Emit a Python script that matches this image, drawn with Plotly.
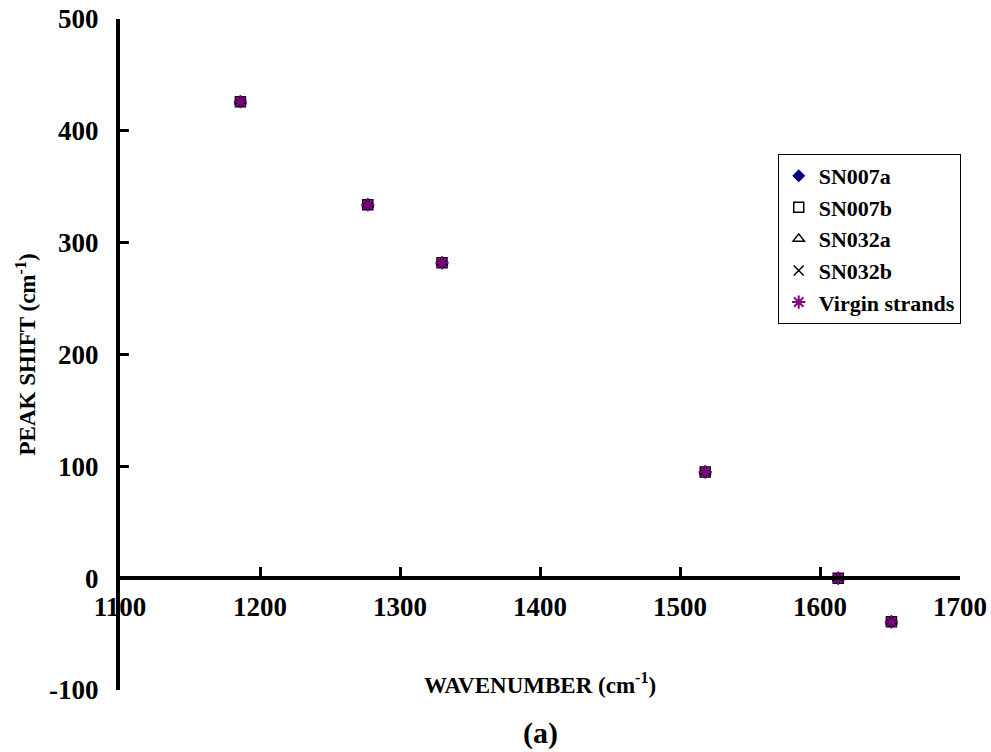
import plotly.graph_objects as go

wavenumber = [1186, 1277, 1330, 1518, 1613, 1651]
sn007a = [426, 334, 282, 95, 0, -39]
sn007b = [426, 334, 282, 95, 0, -39]
sn032a = [426, 334, 282, 95, 0, -39]
sn032b = [426, 334, 282, 95, 0, -39]
virgin = [426, 334, 282, 95, 0, -39]

x_ticks = [1100, 1200, 1300, 1400, 1500, 1600, 1700]
y_ticks = [-100, 0, 100, 200, 300, 400, 500]

FONT = "Liberation Serif"

fig = go.Figure()
series = [
    ("SN007a", sn007a, dict(symbol="diamond", color="#000080", size=10)),
    ("SN007b", sn007b, dict(symbol="square-open", color="black", size=10, line=dict(width=1.5, color="black"))),
    ("SN032a", sn032a, dict(symbol="triangle-up-open", color="black", size=10, line=dict(width=1.5, color="black"))),
    ("SN032b", sn032b, dict(symbol="x-thin-open", color="black", size=10, line=dict(width=1.5, color="black"))),
    ("Virgin strands", virgin, dict(symbol="asterisk-open", color="#800080", size=11, line=dict(width=2, color="#800080"))),
]
for name, ys, mk in series:
    fig.add_trace(go.Scatter(x=wavenumber, y=ys, mode="markers", name=name, marker=mk))

fig.update_layout(
    width=991, height=752,
    margin=dict(l=120, r=31, t=19, b=62, autoexpand=False),
    paper_bgcolor="white", plot_bgcolor="white",
    font=dict(family=FONT, color="black"),
    showlegend=True,
    legend=dict(
        x=0.783, y=0.799, xanchor="left", yanchor="top",
        bgcolor="white", bordercolor="black", borderwidth=1,
        font=dict(family=FONT, size=22, color="black", weight="bold"),
        itemwidth=30,
    ),
    xaxis=dict(
        range=[1100, 1700], tickvals=x_ticks, ticktext=[str(v) for v in x_ticks],
        anchor="free", position=1/6, automargin=False,
        showline=True, linecolor="black", linewidth=4,
        ticks="inside", ticklen=9, tickwidth=3, tickcolor="black",
        showgrid=False, zeroline=False,
        tickfont=dict(family=FONT, size=27, color="black", weight="bold"),
        ticklabelstandoff=3,
    ),
    yaxis=dict(
        range=[-100, 500], tickvals=y_ticks, ticktext=[str(v) for v in y_ticks],
        automargin=False,
        showline=True, linecolor="black", linewidth=4,
        ticks="inside", ticklen=9, tickwidth=3, tickcolor="black",
        showgrid=False, zeroline=False,
        tickfont=dict(family=FONT, size=27, color="black", weight="bold"),
        ticklabelstandoff=12,
    ),
    annotations=[
        dict(text="WAVENUMBER (cm<sup>-1</sup>)", xref="paper", yref="paper",
             x=0.5, y=(690 - 683) / 671, xanchor="center", yanchor="middle",
             showarrow=False, font=dict(family=FONT, size=23, color="black", weight="bold")),
        dict(text="(a)", xref="paper", yref="paper",
             x=0.5, y=(690 - 733) / 671, xanchor="center", yanchor="middle",
             showarrow=False, font=dict(family=FONT, size=30, color="black", weight="bold")),
        dict(text="PEAK SHIFT (cm<sup>-1</sup>)", xref="paper", yref="paper",
             x=(26 - 120) / 840, y=0.5, xanchor="center", yanchor="middle", textangle=-90,
             showarrow=False, font=dict(family=FONT, size=23, color="black", weight="bold")),
    ],
)

fig.write_html("out.html")
